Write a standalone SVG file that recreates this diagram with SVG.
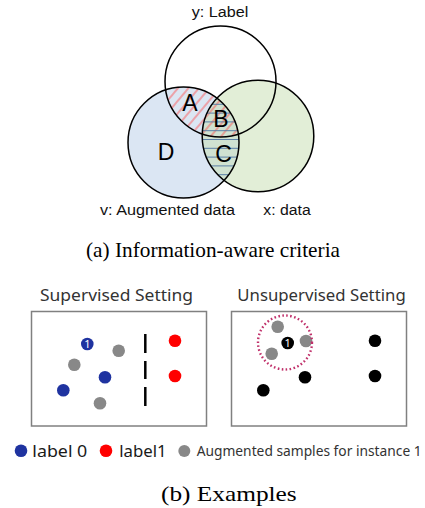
<svg xmlns="http://www.w3.org/2000/svg" width="425" height="508" viewBox="0 0 425 508">
<style>
.vlab{font-family:"Liberation Sans",Arial,sans-serif;font-size:15.5px;fill:#111}
.big{font-family:"Liberation Sans",Arial,sans-serif;font-size:23px;fill:#000;text-anchor:middle}
.cap{font-family:"Liberation Serif","Times New Roman",serif;font-size:22px;fill:#000}
.ttl{font-family:"Noto Sans","Open Sans",sans-serif;font-size:17px;fill:#333}
.leg{font-family:"Noto Sans","Open Sans",sans-serif;font-size:17px;fill:#1a1a1a}
.legs{font-family:"Noto Sans","Open Sans",sans-serif;font-size:14px;fill:#333}
.one{font-family:"Noto Sans","Open Sans",sans-serif;font-size:11px;fill:#fff;text-anchor:middle}
.ring{fill:none;stroke:#000;stroke-width:1.5}
.box{fill:#fff;stroke:#808080;stroke-width:1.5}
.blue{fill:#1f33a0}.red{fill:#ff0000}.gray{fill:#888}.blk{fill:#000}
.dash{stroke:#000;stroke-width:2.5}
</style>
<defs>
<clipPath id="cTop"><circle cx="220.5" cy="81.5" r="55.5"/></clipPath>
<clipPath id="cLeft"><circle cx="183.5" cy="142.5" r="55.5"/></clipPath>
<clipPath id="cRight"><circle cx="258" cy="136" r="55.8"/></clipPath>
<pattern id="redHatch" patternUnits="userSpaceOnUse" width="8" height="20" patternTransform="rotate(40)">
<line x1="1" y1="0" x2="1" y2="20" stroke="#ff4d4d" stroke-width="0.9"/>
</pattern>
</defs>
<g id="venn">
<circle cx="183.5" cy="142.5" r="55.5" fill="#dbe6f3"/>
<circle cx="258" cy="136" r="55.8" fill="#c6ddb0" fill-opacity="0.5"/>
<g clip-path="url(#cLeft)"><g clip-path="url(#cTop)"><rect x="120" y="20" width="200" height="180" fill="url(#redHatch)"/></g></g>
<g clip-path="url(#cLeft)"><g clip-path="url(#cRight)" stroke="#5b7fa6" stroke-width="1">
<line x1="190" y1="95.5" x2="250" y2="95.5"/>
<line x1="190" y1="104.3" x2="250" y2="104.3"/>
<line x1="190" y1="113.1" x2="250" y2="113.1"/>
<line x1="190" y1="121.9" x2="250" y2="121.9"/>
<line x1="190" y1="130.7" x2="250" y2="130.7"/>
<line x1="190" y1="139.5" x2="250" y2="139.5"/>
<line x1="190" y1="148.3" x2="250" y2="148.3"/>
<line x1="190" y1="157.1" x2="250" y2="157.1"/>
<line x1="190" y1="165.9" x2="250" y2="165.9"/>
<line x1="190" y1="174.7" x2="250" y2="174.7"/>
<line x1="190" y1="183.5" x2="250" y2="183.5"/>
</g></g>
</g>
<g id="node-y"><circle class="ring" cx="220.5" cy="81.5" r="55.5"/><text class="vlab" x="191.7" y="17" textLength="56.6" lengthAdjust="spacingAndGlyphs">y: Label</text></g>
<g id="node-v"><circle class="ring" cx="183.5" cy="142.5" r="55.5"/><text class="vlab" x="100" y="215" textLength="135" lengthAdjust="spacingAndGlyphs">v: Augmented data</text></g>
<g id="node-x"><circle class="ring" cx="258" cy="136" r="55.8"/><text class="vlab" x="263.3" y="215" textLength="47.4" lengthAdjust="spacingAndGlyphs">x: data</text></g>
<g id="regions">
<text class="big" x="190" y="111">A</text>
<text class="big" x="221" y="127">B</text>
<text class="big" x="223.5" y="162">C</text>
<text class="big" x="166" y="159.5">D</text>
</g>
<text class="cap" x="86" y="257" textLength="254" lengthAdjust="spacingAndGlyphs">(a)  Information-aware criteria</text>
<g id="supervised">
<text class="ttl" x="40" y="301" textLength="153" lengthAdjust="spacingAndGlyphs">Supervised Setting</text>
<rect class="box" x="31.5" y="311.5" width="175" height="114.5"/>
<circle class="blue" cx="87.3" cy="344" r="6.3"/><text class="one" x="87.3" y="348">1</text>
<circle class="gray" cx="118.7" cy="350.7" r="6.3"/>
<circle class="gray" cx="74.3" cy="364.7" r="6.3"/>
<circle class="blue" cx="105" cy="377.3" r="6.3"/>
<circle class="blue" cx="63.3" cy="390.3" r="6.3"/>
<circle class="gray" cx="100" cy="403.3" r="6.3"/>
<circle class="red" cx="175" cy="340.7" r="6.3"/>
<circle class="red" cx="175" cy="376" r="6.3"/>
<line class="dash" x1="145.3" y1="334" x2="145.3" y2="353"/>
<line class="dash" x1="145.3" y1="361" x2="145.3" y2="379"/>
<line class="dash" x1="145.3" y1="387" x2="145.3" y2="406"/>
</g>
<g id="unsupervised">
<text class="ttl" x="237.3" y="301" textLength="168.4" lengthAdjust="spacingAndGlyphs">Unsupervised Setting</text>
<rect class="box" x="231.5" y="311.5" width="175" height="114.5"/>
<circle class="gray" cx="277.7" cy="326.7" r="6.3"/>
<circle class="gray" cx="306" cy="341" r="6.3"/>
<circle class="gray" cx="271.7" cy="353.7" r="6.3"/>
<circle class="blk" cx="287.7" cy="343" r="6.3"/><text class="one" x="287.7" y="347">1</text>
<circle cx="285" cy="342.5" r="27" fill="none" stroke="#c0306a" stroke-width="2.4" stroke-dasharray="1.6 2.4"/>
<circle class="blk" cx="305" cy="377.3" r="6.3"/>
<circle class="blk" cx="263.3" cy="390.3" r="6.3"/>
<circle class="blk" cx="375" cy="340.7" r="6.3"/>
<circle class="blk" cx="375" cy="376" r="6.3"/>
</g>
<g id="legend">
<circle class="blue" cx="21" cy="450.7" r="6.3"/>
<text class="leg" x="32.3" y="456.7" textLength="55" lengthAdjust="spacingAndGlyphs">label 0</text>
<circle class="red" cx="106" cy="450.7" r="6.3"/>
<text class="leg" x="119.3" y="456.7" textLength="47.4" lengthAdjust="spacingAndGlyphs">label1</text>
<circle class="gray" cx="184.3" cy="451" r="6"/>
<text class="legs" x="196.7" y="456" textLength="225" lengthAdjust="spacingAndGlyphs">Augmented samples for instance 1</text>
</g>
<text class="cap" x="161" y="500.7" textLength="135.7" lengthAdjust="spacingAndGlyphs">(b)  Examples</text>
</svg>
